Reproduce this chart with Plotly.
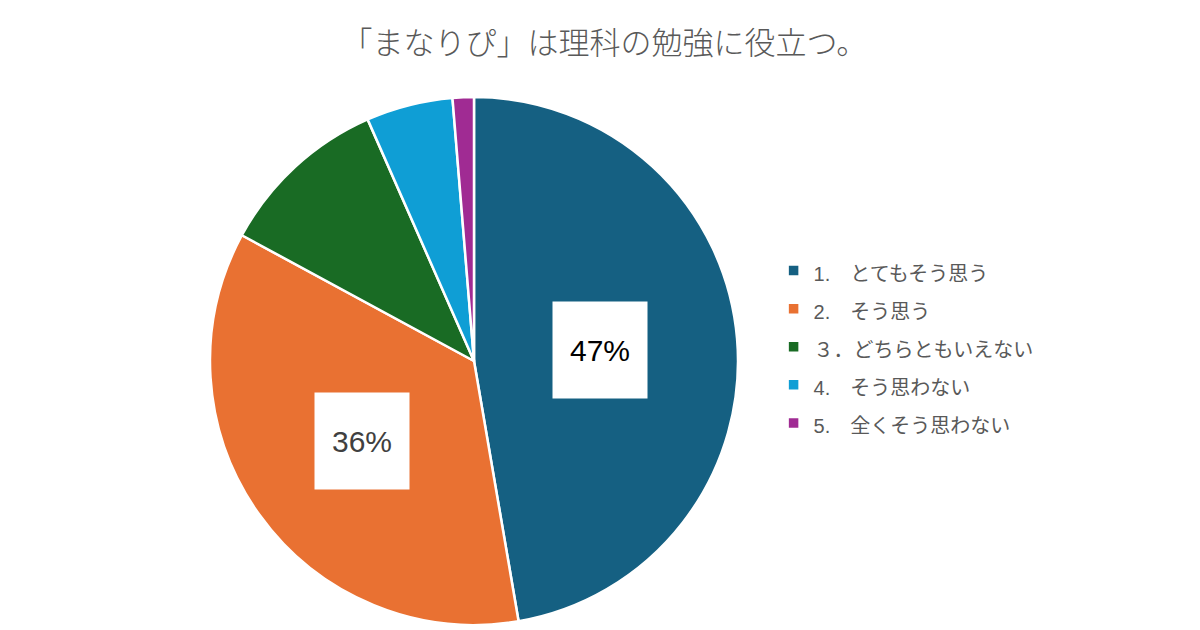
import math
import plotly.graph_objects as go

# survey answers (percent)
labels = ["1.　とてもそう思う", "2.　そう思う", "３．どちらともいえない", "4.　そう思わない", "5.　全くそう思わない"]
values = [47.3, 35.6, 10.5, 5.3, 1.3]
colors = ["#156082", "#E97132", "#196B24", "#0F9ED5", "#A02B93"]
shown = [0, 1]  # slices that get a boxed percent label
label_colors = ["#000000", "#404040"]
label_r = [0.48, 0.52]

W, H = 1200, 630
OFF = 8  # page body margin
cx, cy, R = 474 - OFF, 361 - OFF, 264

fig = go.Figure()
fig.add_trace(go.Pie(
    labels=[f"<span style='font-size:20px'>{l}</span>" for l in labels],
    values=values,
    sort=False,
    direction="clockwise",
    rotation=0,
    marker=dict(colors=colors, line=dict(color="white", width=2.5)),
    textinfo="none",
    hoverinfo="skip",
    domain=dict(x=[(cx - R) / W, (cx + R) / W], y=[1 - (cy + R) / H, 1 - (cy - R) / H]),
))

# boxed percent labels placed at each slice's middle angle
total = sum(values)
cum = 0
for i, v in enumerate(values):
    mid = (cum + v / 2) / total * 2 * math.pi
    cum += v
    if i not in shown:
        continue
    k = shown.index(i)
    px_ = cx + label_r[k] * R * math.sin(mid)
    py_ = cy - label_r[k] * R * math.cos(mid)
    fig.add_annotation(
        x=px_ / W, y=1 - py_ / H, xref="paper", yref="paper",
        xanchor="center", yanchor="middle",
        text=f"{round(v / total * 100)}%", showarrow=False,
        font=dict(size=30, color=label_colors[k], family="Liberation Sans, Arial, sans-serif"),
        bgcolor="white", width=92, height=94,
    )

fig.update_layout(
    width=W, height=H,
    margin=dict(l=0, r=0, t=0, b=0),
    paper_bgcolor="white",
    title=dict(
        text="「まなりぴ」は理科の勉強に役立つ。",
        x=0.497, xanchor="center", y=1 - 35 / H, yanchor="middle",
        font=dict(size=31, color="#595959", family="Noto Sans CJK JP", weight=300),
    ),
    legend=dict(
        x=0.638, xanchor="left", y=1 - 339 / H, yanchor="middle",
        font=dict(size=27, color="#595959", family="Liberation Sans, Noto Sans CJK JP, sans-serif"),
        bgcolor="rgba(0,0,0,0)",
    ),
)

fig.write_html("out.html")
